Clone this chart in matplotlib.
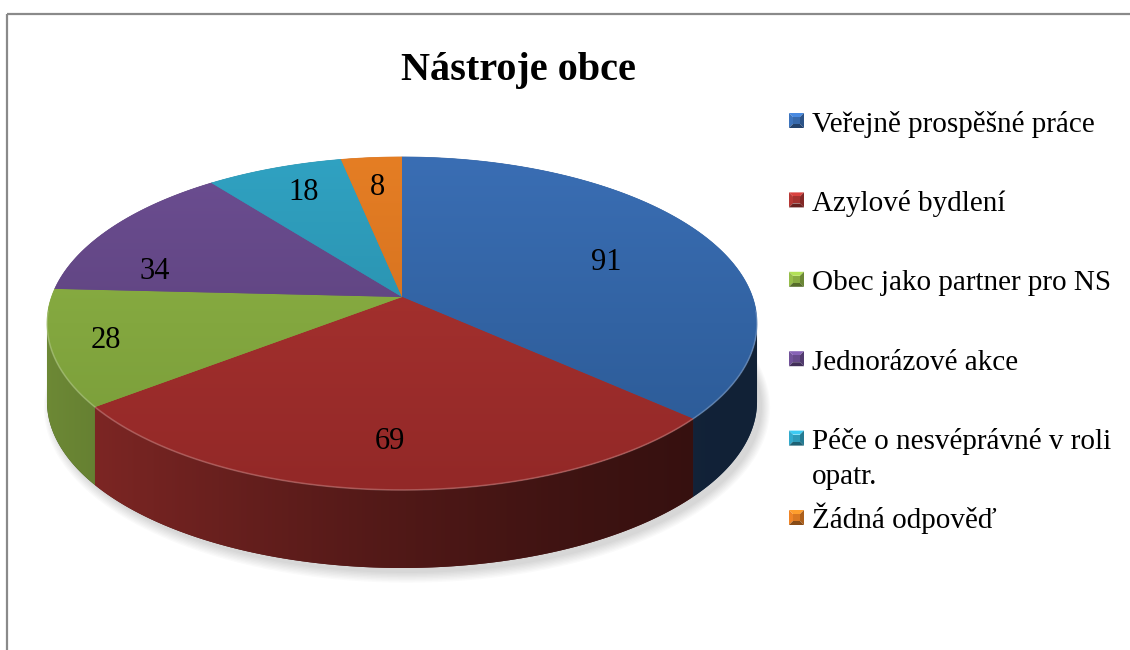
import numpy as np
import matplotlib.pyplot as plt
from matplotlib.patches import Polygon, Rectangle
from matplotlib.colors import to_rgb

# --- data -------------------------------------------------------------
title = "Nástroje obce"
categories = [
    "Veřejně prospěšné práce",
    "Azylové bydlení",
    "Obec jako partner pro NS",
    "Jednorázové akce",
    "Péče o nesvéprávné v roli\nopatr.",
    "Žádná odpověď",
]
values = [91, 69, 28, 34, 18, 8]

# top-face colours (light at the back, darker at the front)
top_light = ["#3a6eb4", "#ae3532", "#8fb446", "#6c4e92", "#30a2c2", "#e57e24"]
top_dark = ["#2a5892", "#922827", "#779a38", "#553c72", "#26849e", "#c9681d"]

# label placement inside the wedges (radius fraction, angle nudge in deg)
label_r = [0.64, 0.78, 0.85, 0.74, 0.78, 0.76]
label_nudge = [-4, 0, 0, 15, -1, 0]

# --- projection of the tilted disc -------------------------------------
CX, CY = 402, 297      # centre of the pie (pixels)
A, B = 350.5, 162.3    # semi axes before perspective
K = 0.159              # perspective strength
H = 78                 # thickness of the pie
Y_TOP, Y_BOT = 157, 490
X_L, X_R = CX - 356, CX + 356


def project(t_deg, r=1.0, drop=0.0):
    t = np.radians(t_deg)
    u = r * np.cos(t)
    v = r * np.sin(t)
    d = 1 + K * v
    return CX + A * u / d, CY - B * v / d + drop


def side_factor(x):
    s = np.clip((x - X_L) / (X_R - X_L), 0, 1)
    return 0.3 + 0.46 * (1 - s) ** 1.5


fig = plt.figure(figsize=(11.3, 6.5), dpi=100)
ax = fig.add_axes([0, 0, 1, 1])
ax.set_xlim(0, 1130)
ax.set_ylim(650, 0)
ax.axis("off")

# chart frame
ax.add_patch(Rectangle((7, 14), 1200, 700, fill=False, edgecolor="#8a8a8a", lw=1.6))

total = float(sum(values))
starts, ends = [], []
a0 = 90.0
for v in values:
    a1 = a0 - 360.0 * v / total
    starts.append(a0)
    ends.append(a1)
    a0 = a1

# soft shadow under the pie
tt = np.linspace(0, 360, 361)
for grow in np.linspace(8, 0, 8):
    sx, sy = project(tt, drop=H + 2)
    sx = CX + (sx - CX) * (1 + grow / 350) + 5
    sy = CY + H + (sy - CY - H) * (1 + grow / 160) + 3
    ax.add_patch(Polygon(np.c_[sx, sy], closed=True, facecolor="black",
                         edgecolor="none", alpha=0.02, zorder=1))

# side walls (only the front part is visible)
vis_lo = 180 + np.degrees(np.arcsin(K))
vis_hi = 360 - np.degrees(np.arcsin(K))
xs_grad = np.linspace(X_L, X_R, 400)
fac = side_factor(xs_grad)[None, :, None]
for i in range(len(values)):
    for shift in (-360, 0, 360):
        lo = max(ends[i] + shift, vis_lo)
        hi = min(starts[i] + shift, vis_hi)
        if lo >= hi:
            continue
        arc = np.linspace(lo, hi, 150)
        px, py = project(arc)
        pts = np.vstack([np.c_[px, py], np.c_[px[::-1], py[::-1] + H]])
        c = np.array(to_rgb(top_light[i]))
        img = np.repeat(np.clip(c[None, None, :] * fac, 0, 1), 2, axis=0)
        base = Polygon(pts, closed=True, facecolor=tuple(c * 0.45),
                       edgecolor="none", zorder=2)
        ax.add_patch(base)
        im = ax.imshow(img, extent=(X_L, X_R, Y_BOT + H + 10, Y_TOP),
                       aspect="auto", interpolation="bilinear", zorder=2.5)
        im.set_clip_path(Polygon(pts, closed=True, transform=ax.transData))

# top faces with a vertical gradient
grad = np.linspace(0, 1, 200)[:, None]
for i in range(len(values)):
    arc = np.linspace(starts[i], ends[i], 200)
    px, py = project(arc)
    pts = np.vstack([[CX, CY], np.c_[px, py]])
    c1 = np.array(to_rgb(top_light[i]))
    c2 = np.array(to_rgb(top_dark[i]))
    base = Polygon(pts, closed=True, facecolor=tuple((c1 + c2) / 2),
                   edgecolor=tuple((c1 + c2) / 2), lw=0.5, zorder=3)
    ax.add_patch(base)
    img = c1[None, None, :] * (1 - grad[:, :, None]) + c2[None, None, :] * grad[:, :, None]
    img = np.repeat(img, 2, axis=1)
    im = ax.imshow(img, extent=(CX - 360, CX + 360, Y_BOT + 3, Y_TOP - 3),
                   aspect="auto", interpolation="bilinear", zorder=4)
    im.set_clip_path(Polygon(pts, closed=True, transform=ax.transData))

# light rim highlight along the front edge
front = np.linspace(185, 355, 300)
hx, hy = project(front)
ax.plot(hx, hy, color="white", alpha=0.22, lw=1.2, zorder=5)

# data labels
for i, v in enumerate(values):
    mid = 0.5 * (starts[i] + ends[i]) + label_nudge[i]
    lx, ly = project(mid, r=label_r[i])
    ax.text(lx, ly, str(v), ha="center", va="center", fontsize=22,
            family="Liberation Serif", color="black", zorder=6)

# title
ax.text(518, 80, title, ha="center", va="baseline", fontsize=29,
        fontweight="bold", family="Liberation Serif", color="black")

# legend with bevelled square markers
ly0, step, line_h = 120.5, 79.4, 34.5
ms, bev = 15, 4
for i, lab in enumerate(categories):
    y = ly0 + step * i
    x0, y0 = 789, y - ms / 2
    c = np.array(to_rgb(top_light[i]))
    xa, xb = x0, x0 + ms
    ya, yb = y0, y0 + ms
    ia, ib, ja, jb = xa + bev, xb - bev, ya + bev, yb - bev
    faces = [
        ([(xa, ya), (xb, ya), (ib, ja), (ia, ja)], 1.25),   # top
        ([(xa, ya), (ia, ja), (ia, jb), (xa, yb)], 1.05),   # left
        ([(xb, ya), (xb, yb), (ib, jb), (ib, ja)], 0.75),   # right
        ([(xa, yb), (ia, jb), (ib, jb), (xb, yb)], 0.6),    # bottom
        ([(ia, ja), (ib, ja), (ib, jb), (ia, jb)], 0.95),   # centre
    ]
    for poly, f in faces:
        ax.add_patch(Polygon(poly, closed=True, facecolor=tuple(np.clip(c * f, 0, 1)),
                             edgecolor="none", zorder=5))
    for j, line in enumerate(lab.split("\n")):
        ax.text(812, y + 11 + j * line_h, line, ha="left", va="baseline",
                fontsize=21, family="Liberation Serif", color="black")

fig.savefig("out.png", dpi=100)
